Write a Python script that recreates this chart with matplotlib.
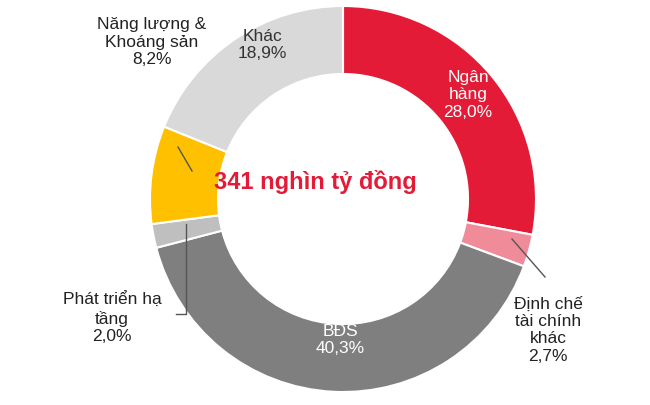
import matplotlib
matplotlib.use("Agg")
import matplotlib.pyplot as plt

categories = ["Ngân\nhàng", "Định chế\ntài chính\nkhác", "BĐS", "Phát triển hạ\ntầng", "Năng lượng &\nKhoáng sản", "Khác"]
values = [28.0, 2.7, 40.3, 2.0, 8.2, 18.9]
labels = ["28,0%", "2,7%", "40,3%", "2,0%", "8,2%", "18,9%"]
colors = ["#E31B37", "#F08C9A", "#7F7F7F", "#BFBFBF", "#FFC000", "#D9D9D9"]

plt.rcParams['font.family'] = ['Liberation Sans', 'DejaVu Sans']
fig = plt.figure(figsize=(6.5, 4.06), dpi=100)
ax = fig.add_axes([0, 0, 1, 1])
ax.set_xlim(0, 650); ax.set_ylim(406, 0)
ax.axis('off')
cx, cy, R = 343, 200, 193
# y inverted -> counterclock=True draws clockwise visually
ax.pie(values, colors=colors, startangle=-90, counterclock=True, center=(cx, cy), radius=R,
       wedgeprops=dict(width=R-125, edgecolor='white', linewidth=1.5), frame=True)
ax.set_xlim(0, 650); ax.set_ylim(406, 0); ax.set_aspect('equal'); ax.axis('off')

fs = 12.5
ax.text(468, 95, categories[0] + "\n" + labels[0], color='white', fontsize=fs, ha='center', va='center')
ax.text(340, 340, categories[2] + "\n" + labels[2], color='white', fontsize=fs, ha='center', va='center')
ax.text(262, 45, categories[5] + "\n" + labels[5], color='#333333', fontsize=fs, ha='center', va='center')
ax.text(152, 42, categories[4] + "\n" + labels[4], color='#222222', fontsize=fs, ha='center', va='center')
ax.text(112, 318, categories[3] + "\n" + labels[3], color='#222222', fontsize=fs, ha='center', va='center')
ax.text(548, 330, categories[1] + "\n" + labels[1], color='#222222', fontsize=fs, ha='center', va='center')
ax.text(315, 182, "341 nghìn tỷ đồng", color='#E31B37', fontsize=17, fontweight='bold', ha='center', va='center')

lc = '#555555'
ax.plot([178, 192], [148, 172], color=lc, lw=1)
ax.plot([186, 186, 176], [225, 315, 315], color=lc, lw=1)
ax.plot([512, 545], [240, 278], color=lc, lw=1)
fig.savefig("out.png", dpi=100)
